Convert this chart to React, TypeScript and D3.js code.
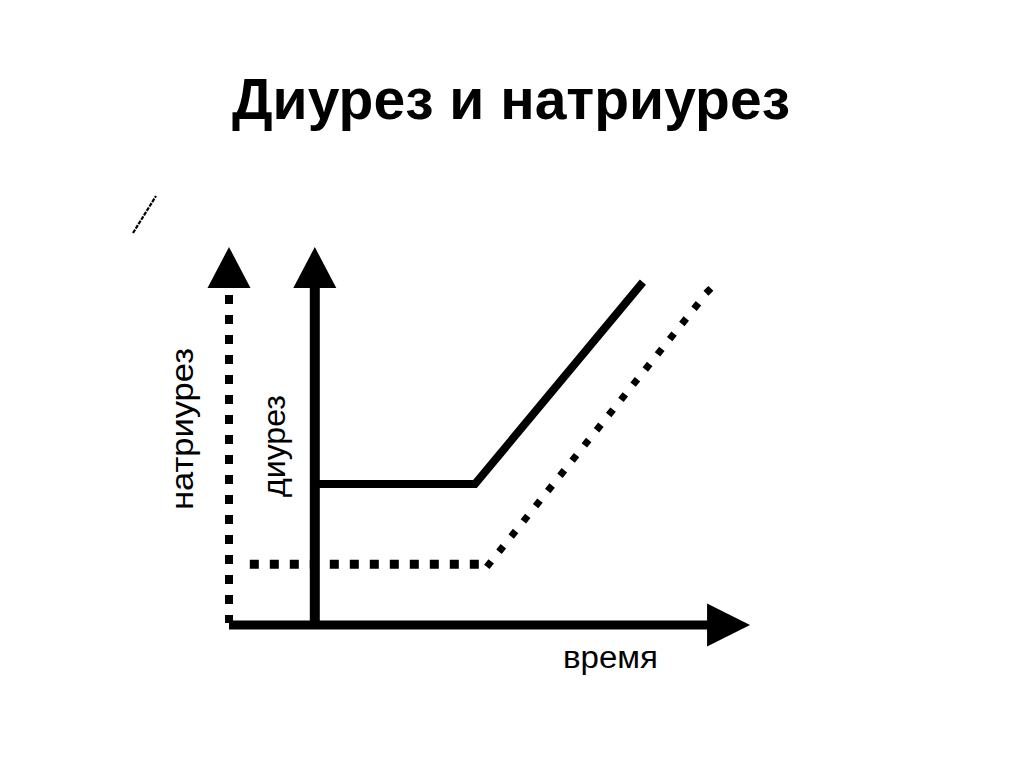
import * as d3 from 'd3';

// время (0..100) and level (0..100)
const diuresisTime = [16.5, 47.3, 79.6];
const diuresisLevel = [37.3, 37.3, 90.7];
const natriuresisTime = [4.0, 50.0, 92.2];
const natriuresisLevel = [16.1, 16.1, 88.4];

const axisLabels = ['натриурез', 'диурез', 'время'];
const title = 'Диурез и натриурез';

export default function App() {
  const width = 1024;
  const height = 767;

  const x = d3.scaleLinear().domain([0, 100]).range([229, 749]);
  const y = d3.scaleLinear().domain([0, 100]).range([625, 247]);

  const line = d3
    .line<[number, number]>()
    .x((d) => x(d[0]))
    .y((d) => y(d[1]));

  const diuresis = diuresisTime.map((t, i) => [t, diuresisLevel[i]] as [number, number]);
  const natriuresis = natriuresisTime.map((t, i) => [t, natriuresisLevel[i]] as [number, number]);

  // spacing of the diagonal dots so that one lands on both ends
  const diagLen = Math.hypot(
    x(natriuresis[2][0]) - x(natriuresis[1][0]),
    y(natriuresis[2][1]) - y(natriuresis[1][1])
  );
  const dotStep = diagLen / Math.round(diagLen / 19.5);

  const solidAxisX = diuresisTime[0];
  const arrowLen = 41;
  const arrowHalf = 21.5;

  const upArrow = (cx: number) =>
    `M${cx},${y(100)} L${cx + arrowHalf},${y(100) + arrowLen} L${cx - arrowHalf},${y(100) + arrowLen} Z`;

  const xTip = x(100.2);
  const rightArrow = `M${xTip},${y(0)} L${xTip - arrowLen - 2},${y(0) - arrowHalf} L${xTip - arrowLen - 2},${y(0) + arrowHalf} Z`;

  return (
    <svg
      width={width}
      height={height}
      viewBox={`0 0 ${width} ${height}`}
      style={{ position: 'absolute', left: 0, top: 0, background: '#fff' }}
    >
      <rect width={width} height={height} fill="#fff" />

      {/* title */}
      <text
        x={232}
        y={119}
        fontFamily="Liberation Sans, Arial, sans-serif"
        fontWeight="bold"
        fontSize={57}
        textLength={558}
        lengthAdjust="spacingAndGlyphs"
        fill="#000"
      >
        {title}
      </text>

      {/* stray mark top-left */}
      <line x1={133} y1={233} x2={156} y2={196} stroke="#000" strokeWidth={2.2} strokeDasharray="4 1.2" />

      {/* dotted натриурез axis */}
      <line
        x1={x(0)}
        y1={y(100) + arrowLen + 7}
        x2={x(0)}
        y2={y(0) - 2}
        stroke="#000"
        strokeWidth={8}
        strokeDasharray="9 11"
      />
      <path d={upArrow(x(0))} fill="#000" />

      {/* solid диурез axis */}
      <line x1={x(solidAxisX)} y1={y(100) + arrowLen - 2} x2={x(solidAxisX)} y2={y(0)} stroke="#000" strokeWidth={10} />
      <path d={upArrow(x(solidAxisX))} fill="#000" />

      {/* time axis */}
      <line x1={x(0)} y1={y(0)} x2={xTip - arrowLen} y2={y(0)} stroke="#000" strokeWidth={9} />
      <path d={rightArrow} fill="#000" />

      {/* natriuresis curve (dotted) */}
      <path
        d={line(natriuresis.slice(0, 2)) ?? ''}
        fill="none"
        stroke="#000"
        strokeWidth={9}
        strokeDasharray="9 11"
      />
      <path
        d={line(natriuresis.slice(1)) ?? ''}
        fill="none"
        stroke="#000"
        strokeWidth={7}
        strokeLinecap="square"
        strokeDasharray={`0.01 ${dotStep - 0.01}`}
      />

      {/* diuresis curve (solid) */}
      <path d={line(diuresis) ?? ''} fill="none" stroke="#000" strokeWidth={8} strokeLinejoin="miter" />

      {/* axis labels */}
      <text
        transform="translate(193,510) rotate(-90)"
        fontFamily="Liberation Sans, Arial, sans-serif"
        fontSize={31}
        textLength={162}
        lengthAdjust="spacingAndGlyphs"
        fill="#000"
      >
        {axisLabels[0]}
      </text>
      <text
        transform="translate(285,497) rotate(-90)"
        fontFamily="Liberation Sans, Arial, sans-serif"
        fontSize={31}
        textLength={102}
        lengthAdjust="spacingAndGlyphs"
        fill="#000"
      >
        {axisLabels[1]}
      </text>
      <text
        x={563}
        y={668}
        fontFamily="Liberation Sans, Arial, sans-serif"
        fontSize={31}
        textLength={95}
        lengthAdjust="spacingAndGlyphs"
        fill="#000"
      >
        {axisLabels[2]}
      </text>
    </svg>
  );
}
